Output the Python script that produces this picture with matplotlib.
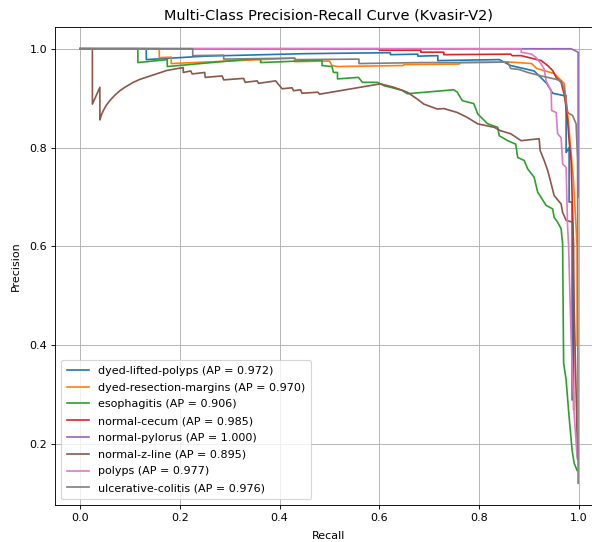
import matplotlib
matplotlib.use('Agg')
import matplotlib.pyplot as plt

classes = ['dyed-lifted-polyps', 'dyed-resection-margins', 'esophagitis', 'normal-cecum',
           'normal-pylorus', 'normal-z-line', 'polyps', 'ulcerative-colitis']
ap_values = [0.972, 0.970, 0.906, 0.985, 1.000, 0.895, 0.977, 0.976]

# recall / precision points
recall_lifted = [0, 0.133, 0.133, 0.25, 0.45, 0.622, 0.622, 0.677, 0.677, 0.717, 0.717, 0.84,
                 0.863, 0.91, 0.935, 0.947, 0.970, 0.974, 0.974, 0.980, 0.980, 0.986, 0.986]
precision_lifted = [1.0, 1.0, 0.978, 0.985, 0.990, 0.992, 0.988, 0.989, 0.985, 0.986, 0.976, 0.978,
                    0.966, 0.955, 0.930, 0.910, 0.905, 0.905, 0.790, 0.800, 0.690, 0.690, 0.290]

recall_resection = [0, 0.159, 0.159, 0.183, 0.183, 0.43, 0.43, 0.50, 0.505, 0.516, 0.647, 0.65,
                    0.76, 0.762, 0.863, 0.905, 0.915, 0.950, 0.970, 0.977, 0.983, 0.989, 0.996, 0.996]
precision_resection = [1.0, 1.0, 0.982, 0.983, 0.970, 0.981, 0.974, 0.975, 0.966, 0.964, 0.966, 0.968,
                       0.969, 0.972, 0.973, 0.970, 0.960, 0.950, 0.930, 0.870, 0.800, 0.730, 0.600, 0.400]

recall_esoph = [0, 0.116, 0.116, 0.175, 0.175, 0.341, 0.362, 0.362, 0.485, 0.485, 0.505, 0.508,
                0.516, 0.516, 0.558, 0.566, 0.596, 0.61, 0.622, 0.645, 0.656, 0.749, 0.756, 0.766,
                0.789, 0.797, 0.817, 0.837, 0.84, 0.857, 0.873, 0.877, 0.89, 0.897, 0.91, 0.917,
                0.934, 0.947, 0.95, 0.957, 0.964, 0.967, 0.969, 0.974, 0.98, 0.986, 0.99, 0.996]
precision_esoph = [1.0, 1.0, 0.972, 0.978, 0.964, 0.979, 0.979, 0.972, 0.977, 0.966, 0.964, 0.952,
                   0.952, 0.939, 0.942, 0.932, 0.932, 0.925, 0.922, 0.916, 0.909, 0.917, 0.912, 0.895,
                   0.889, 0.868, 0.848, 0.841, 0.824, 0.814, 0.807, 0.780, 0.774, 0.757, 0.740, 0.710,
                   0.683, 0.676, 0.659, 0.649, 0.636, 0.605, 0.364, 0.330, 0.255, 0.188, 0.162, 0.147]

recall_cecum = [0, 0.60, 0.60, 0.683, 0.683, 0.729, 0.729, 0.863, 0.866, 0.884, 0.924, 0.937,
                0.947, 0.954, 0.964, 0.970, 0.974, 0.977, 0.980, 0.984, 0.989, 0.989]
precision_cecum = [1.0, 1.0, 0.997, 0.997, 0.993, 0.993, 0.988, 0.989, 0.986, 0.986, 0.976, 0.966,
                   0.956, 0.942, 0.932, 0.908, 0.881, 0.855, 0.814, 0.774, 0.600, 0.270]

recall_pylorus = [0, 0.984, 0.998, 0.998]
precision_pylorus = [1.0, 1.0, 0.993, 0.700]

recall_zline = [0, 0.025, 0.025, 0.04, 0.04, 0.043, 0.047, 0.053, 0.06, 0.07, 0.08, 0.09, 0.107,
                0.12, 0.141, 0.174, 0.207, 0.207, 0.222, 0.225, 0.25, 0.251, 0.285, 0.288, 0.328,
                0.331, 0.355, 0.358, 0.392, 0.405, 0.425, 0.428, 0.442, 0.445, 0.477, 0.48, 0.602,
                0.629, 0.656, 0.676, 0.689, 0.716, 0.729, 0.756, 0.776, 0.797, 0.83, 0.843, 0.863,
                0.884, 0.92, 0.922, 0.93, 0.937, 0.944, 0.95, 0.964, 0.967, 0.974, 0.987, 0.989,
                0.993, 0.997]
precision_zline = [1.0, 1.0, 0.888, 0.922, 0.856, 0.866, 0.875, 0.886, 0.895, 0.906, 0.915, 0.922, 0.932,
                   0.938, 0.945, 0.956, 0.962, 0.952, 0.955, 0.949, 0.952, 0.942, 0.945, 0.937, 0.940,
                   0.932, 0.935, 0.930, 0.935, 0.919, 0.921, 0.915, 0.917, 0.910, 0.912, 0.908, 0.929,
                   0.922, 0.912, 0.898, 0.888, 0.878, 0.879, 0.871, 0.861, 0.848, 0.841, 0.834, 0.828,
                   0.814, 0.818, 0.794, 0.774, 0.754, 0.727, 0.703, 0.686, 0.669, 0.653, 0.649, 0.531,
                   0.350, 0.170]

recall_polyps = [0, 0.884, 0.884, 0.905, 0.914, 0.924, 0.930, 0.934, 0.944, 0.945, 0.954, 0.957,
                 0.964, 0.967, 0.974, 0.977, 0.979, 0.984, 0.990, 0.996]
precision_polyps = [1.0, 1.0, 0.993, 0.989, 0.982, 0.969, 0.959, 0.935, 0.915, 0.875, 0.871, 0.828,
                    0.820, 0.767, 0.760, 0.639, 0.600, 0.416, 0.263, 0.174]

recall_colitis = [0, 0.226, 0.226, 0.288, 0.288, 0.43, 0.433, 0.559, 0.559, 0.683, 0.763, 0.857,
                  0.863, 0.88, 0.897, 0.924, 0.95, 0.964, 0.970, 0.977, 0.987, 0.994, 0.997, 0.998]
precision_colitis = [1.0, 1.0, 0.986, 0.987, 0.979, 0.981, 0.978, 0.979, 0.970, 0.972, 0.972, 0.973,
                     0.960, 0.958, 0.952, 0.945, 0.939, 0.935, 0.919, 0.871, 0.865, 0.848, 0.774, 0.121]

recalls = [recall_lifted, recall_resection, recall_esoph, recall_cecum,
           recall_pylorus, recall_zline, recall_polyps, recall_colitis]
precisions = [precision_lifted, precision_resection, precision_esoph, precision_cecum,
              precision_pylorus, precision_zline, precision_polyps, precision_colitis]

fig = plt.figure(figsize=(7.4, 6.775), dpi=80)
# right spine sits just outside the canvas, like the reference crop
ax = fig.add_axes([55 / 592, 1 - 505 / 542, 548 / 592, 478 / 542])

for name, ap, rec, prec in zip(classes, ap_values, recalls, precisions):
    ax.plot(rec, prec, label=f'{name} (AP = {ap:.3f})')

ax.set_xlabel('Recall', labelpad=7)
ax.set_ylabel('Precision', labelpad=8)
ax.set_title('Multi-Class Precision-Recall Curve (Kvasir-V2)', fontsize=13, pad=7)
ax.legend(loc='lower left', labelspacing=0.61, borderpad=0.56)
ax.grid(True)

fig.savefig('out.png', dpi=80)
